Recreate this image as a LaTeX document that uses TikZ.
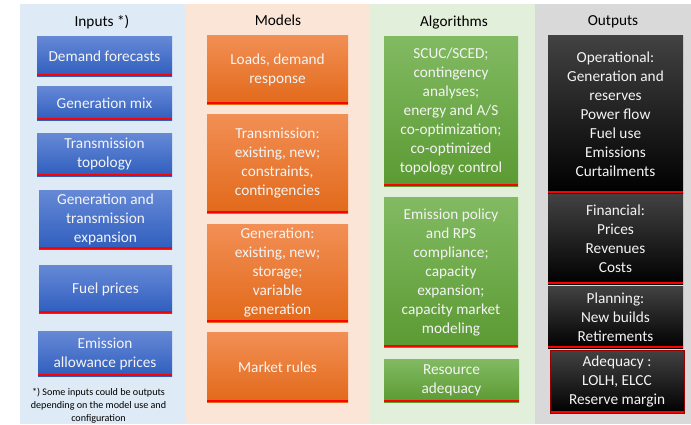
\documentclass[tikz,border=0pt]{standalone}
\usepackage{fontspec}
\setmainfont{Carlito}
\definecolor{bgIn}{HTML}{DEEAF6}
\definecolor{bgMod}{HTML}{FBE5D6}
\definecolor{bgAlg}{HTML}{E2EFDA}
\definecolor{bgOut}{HTML}{D9D9D9}
\definecolor{blueT}{HTML}{6689D6}
\definecolor{blueB}{HTML}{2F5EBE}
\definecolor{orT}{HTML}{F28F55}
\definecolor{orM}{HTML}{F47C28}
\definecolor{orB}{HTML}{E2691A}
\definecolor{grT}{HTML}{82BA62}
\definecolor{grM}{HTML}{6DAE45}
\definecolor{grB}{HTML}{5B9A33}
\definecolor{blkT}{HTML}{424242}
\definecolor{blkM}{HTML}{0A0A0A}
\definecolor{txtW}{HTML}{F4F4F4}
\newcommand{\boxfont}{\fontsize{15.3}{19}\selectfont}
\tikzset{
  redbot/.style={path picture={\draw[red, line width=2pt]
     ([yshift=1pt]path picture bounding box.south west) --
     ([yshift=1pt]path picture bounding box.south east);}},
  basebox/.style={rectangle, inner sep=0pt, align=center, text=txtW,
     font=\boxfont, redbot},
  inbox/.style={basebox, top color=blueT, bottom color=blueB},
  modbox/.style={basebox, top color=orT, middle color=orM, bottom color=orB},
  algbox/.style={basebox, top color=grT, middle color=grM, bottom color=grB},
  outbox/.style={basebox, top color=blkT, middle color=blkM, bottom color=black, text=txtW},
  header/.style={font=\boxfont, text=black, inner sep=0pt}
}
\begin{document}
\begin{tikzpicture}[x=1pt,y=-1pt]
\useasboundingbox[fill=white] (0,0) rectangle (691,424);
% column backgrounds
\fill[bgIn]  (20,4)  rectangle (185,424);
\fill[bgMod] (185,4) rectangle (370,424);
\fill[bgAlg] (370,4) rectangle (535,424);
\fill[bgOut] (535,4) rectangle (691,424);
% headers
\node[header] (hIn)  at (102,22) {Inputs *)};
\node[header] (hMod) at (278,20) {Models};
\node[header] (hAlg) at (454,22) {Algorithms};
\node[header] (hOut) at (613,22) {Outputs};
% inputs
\node[inbox, minimum width=135pt, minimum height=40pt] (i1) at (104.5,56) {Demand forecasts};
\node[inbox, minimum width=135pt, minimum height=34pt] (i2) at (104.5,103) {Generation mix};
\node[inbox, minimum width=135pt, minimum height=43pt] (i3) at (104.5,154.5) {Transmission\\topology};
\node[inbox, minimum width=133pt, minimum height=59pt] (i4) at (105.5,219.5) {Generation and\\transmission\\expansion};
\node[inbox, minimum width=133pt, minimum height=48pt] (i5) at (105.5,289) {Fuel prices};
\node[inbox, minimum width=134pt, minimum height=45pt] (i6) at (105,353.5) {Emission\\allowance prices};
\node[align=center, inner sep=0pt, font=\fontsize{10.1}{13}\selectfont] (foot) at (98.5,406)
  {*) Some inputs could be outputs\\depending on the model use and\\configuration};
% models
\node[modbox, minimum width=141pt, minimum height=69pt] (m1) at (277.5,69.5) {Loads, demand\\response};
\node[modbox, minimum width=141pt, minimum height=99pt] (m2) at (277.5,163.5) {Transmission:\\existing, new;\\constraints,\\contingencies};
\node[modbox, minimum width=141pt, minimum height=98pt] (m3) at (277.5,273) {Generation:\\existing, new;\\storage;\\variable\\generation};
\node[modbox, minimum width=141pt, minimum height=70pt] (m4) at (277.5,367) {Market rules};
% algorithms
\node[algbox, minimum width=134pt, minimum height=150pt] (a1) at (451,111) {SCUC/SCED;\\contingency\\analyses;\\energy and A/S\\co-optimization;\\co-optimized\\topology control};
\node[algbox, minimum width=134pt, minimum height=150pt] (a2) at (451,272) {Emission policy\\and RPS\\compliance;\\capacity\\expansion;\\capacity market\\modeling};
\node[algbox, minimum width=135pt, minimum height=43pt] (a3) at (451.5,380.5) {Resource\\adequacy};
% outputs
\node[outbox, minimum width=135pt, minimum height=158pt] (o1) at (615.5,114) {Operational:\\Generation and\\reserves\\Power flow\\Fuel use\\Emissions\\Curtailments};
\node[outbox, minimum width=135pt, minimum height=90pt] (o2) at (615.5,239) {Financial:\\Prices\\Revenues\\Costs};
\node[outbox, minimum width=135pt, minimum height=62pt] (o3) at (615.5,317) {Planning:\\New builds\\Retirements};
\node[outbox, draw=red!60!black, line width=0.6pt, minimum width=134pt, minimum height=63pt] (o4) at (617,381.5) {Adequacy :\\LOLH, ELCC\\Reserve margin};
\end{tikzpicture}
\end{document}
